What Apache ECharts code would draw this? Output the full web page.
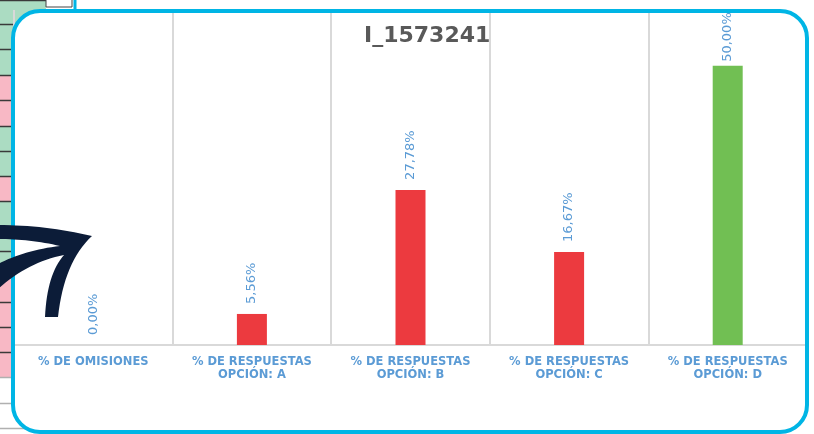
<!DOCTYPE html>
<html>
<head>
<meta charset="utf-8">
<script src="https://cdn.jsdelivr.net/npm/echarts@6/dist/echarts.min.js"></script>
<style>html,body{margin:0;padding:0;background:#fff;}#c{width:814px;height:434px;}</style>
</head>
<body>
<div id="c"></div>
<script>
const chartTitle = 'I_1573241';
const categories = ['% DE OMISIONES', '% DE RESPUESTAS\nOPCIÓN: A', '% DE RESPUESTAS\nOPCIÓN: B', '% DE RESPUESTAS\nOPCIÓN: C', '% DE RESPUESTAS\nOPCIÓN: D'];
const values = [0.00, 5.56, 27.78, 16.67, 50.00];
const barColors = ['#ec3a3f', '#ec3a3f', '#ec3a3f', '#ec3a3f', '#71bf53'];
// spreadsheet rows visible on the left edge (decoration)
const rowEdges = [0, 24, 49, 75, 100, 126, 151, 176, 201, 226, 251, 277, 302, 327, 352, 377, 403, 428, 454];
const rowFills = ['#abdcc2','#abdcc2','#abdcc2','#f8b8c5','#f8b8c5','#abdcc2','#abdcc2','#f8b8c5','#abdcc2','#abdcc2','#abdcc2','#f8b8c5','#f8b8c5','#f8b8c5','#f8b8c5','#ffffff','#ffffff','#ffffff'];

const chart = echarts.init(document.getElementById('c'), null, {renderer: 'canvas'});

function quadPts(p0, c, p1, n) {
  const out = [];
  for (let k = 1; k <= n; k++) {
    const t = k / n, u = 1 - t;
    out.push([u*u*p0[0] + 2*u*t*c[0] + t*t*p1[0], u*u*p0[1] + 2*u*t*c[1] + t*t*p1[1]]);
  }
  return out;
}
// decorative arrow outline
const arrowPts = [[-2, 225]];
function seg(c, p1) { const p0 = arrowPts[arrowPts.length - 1]; quadPts(p0, c, p1, 16).forEach(p => arrowPts.push(p)); }
seg([45, 225], [92, 236]);
seg([64, 262], [58, 317]);
arrowPts.push([45, 317]);
seg([47, 274], [64, 255]);
seg([28, 262], [-2, 289]);
arrowPts.push([-2, 264]);
seg([25, 250], [60, 246]);
seg([30, 239], [-2, 239]);

// mask outside the top-right rounded corner
const cornerMask = [[814, 40]];
for (let k = 0; k <= 20; k++) {
  const a = -Math.PI / 2 * k / 20;
  cornerMask.push([780 + 29 * Math.cos(a), 38 + 29 * Math.sin(a)]);
}
cornerMask.push([780, 0], [814, 0]);

const graphics = [];
for (let i = 0; i < rowFills.length; i++) {
  graphics.push({type: 'rect', z: -20, silent: true,
    shape: {x: 0, y: rowEdges[i], width: 46, height: rowEdges[i+1] - rowEdges[i]},
    style: {fill: rowFills[i]}});
  graphics.push({type: 'line', z: -19, silent: true,
    shape: {x1: 0, y1: rowEdges[i] + 0.5, x2: 46, y2: rowEdges[i] + 0.5},
    style: {stroke: rowFills[i] === '#ffffff' ? '#b0b0b0' : '#3a3a3a', lineWidth: 1.5}});
}
graphics.push({type: 'rect', z: -19, silent: true, shape: {x: 46, y: -2, width: 26, height: 9},
  style: {fill: '#ffffff', stroke: '#444', lineWidth: 1}});
graphics.push({type: 'line', z: -19, silent: true, shape: {x1: 75, y1: 0, x2: 75, y2: 12},
  style: {stroke: '#00b5e5', lineWidth: 3}});
graphics.push({type: 'rect', z: -10, silent: true,
  shape: {x: 13, y: 11, width: 794, height: 421, r: 27},
  style: {fill: '#ffffff'}});
graphics.push({type: 'polygon', z: 45, silent: true,
  shape: {points: cornerMask}, style: {fill: '#ffffff'}});
graphics.push({type: 'rect', z: 50, silent: true,
  shape: {x: 13, y: 11, width: 794, height: 421, r: 27},
  style: {fill: 'transparent', stroke: '#00b5e5', lineWidth: 4}});
graphics.push({type: 'polygon', z: 60, silent: true,
  shape: {points: arrowPts},
  style: {fill: '#0c1c38'}});

const maxVal = Math.max.apply(null, values);
const seriesData = values.map((v, i) => {
  const item = {value: v, itemStyle: {color: barColors[i]}};
  if (v === maxVal) item.label = {distance: 4};
  return item;
});

chart.setOption({
  animation: false,
  backgroundColor: '#ffffff',
  title: {
    text: chartTitle, left: 359, top: 20,
    textStyle: {fontFamily: 'DejaVu Sans', fontWeight: 'bold', fontSize: 22, color: '#595959'}
  },
  grid: {left: 14, right: 7, top: 10, bottom: 89, containLabel: false},
  xAxis: {
    type: 'category', data: categories,
    axisTick: {show: false},
    axisLine: {lineStyle: {color: '#d9d9d9', width: 2}},
    splitLine: {show: true, lineStyle: {color: '#d9d9d9', width: 2}},
    axisLabel: {interval: 0, margin: 11, lineHeight: 13, fontFamily: 'DejaVu Sans', fontWeight: 'bold', fontSize: 11.5, color: '#5b9bd5'}
  },
  yAxis: {type: 'value', min: 0, max: 60, show: false, splitLine: {show: false}},
  series: [{
    type: 'bar', data: seriesData, barWidth: 30,
    label: {
      show: true, position: 'top', rotate: 90, align: 'left', verticalAlign: 'middle', distance: 10,
      fontFamily: 'DejaVu Sans', fontSize: 13, color: '#5b9bd5',
      formatter: p => p.value.toFixed(2).replace('.', ',') + '%'
    }
  }],
  graphic: graphics
});
</script>
</body>
</html>
